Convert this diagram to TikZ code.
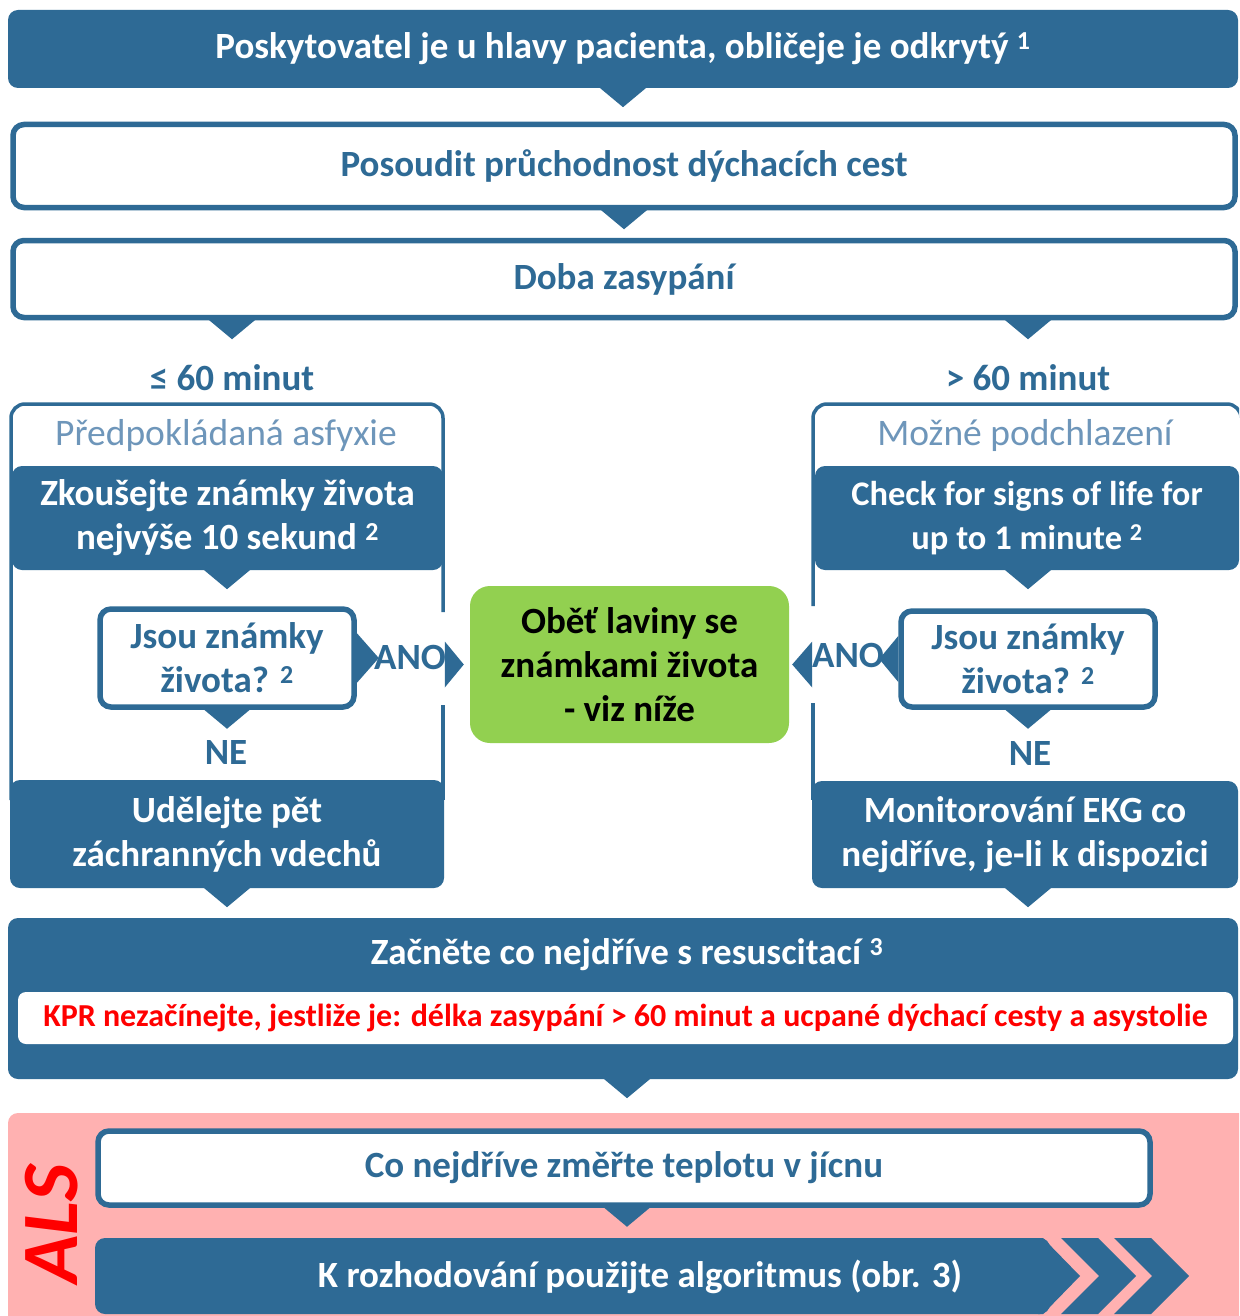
\documentclass[tikz,border=0pt]{standalone}
\usepackage{fontspec}
\setmainfont{Carlito}
\usetikzlibrary{calc}
\definecolor{mblue}{RGB}{46,106,149}
\definecolor{lblue}{RGB}{110,150,186}
\definecolor{mgreen}{RGB}{146,208,80}
\definecolor{mpink}{RGB}{255,177,177}
\definecolor{mred}{RGB}{255,0,0}
\newcommand{\pdown}[1]{\fill[mblue] ($#1+(-24,-1)$) -- ($#1+(24,-1)$) -- ($#1+(0,19)$) -- cycle;}
\newcommand{\bigf}{\bfseries\fontsize{37pt}{44pt}\selectfont}
\begin{document}
\begin{tikzpicture}[x=1pt,y=-1pt,
  dk/.style={fill=mblue, rounded corners=10pt, text=white, font=\bigf, align=center, inner sep=0pt},
  wb/.style={draw=mblue, line width=5.5pt, fill=white, rounded corners=11pt, text=mblue, font=\bigf, align=center, inner sep=0pt},
  lbl/.style={text=mblue, font=\bigf, inner sep=0pt},
  sub/.style={text=lblue, font=\fontsize{37.5pt}{40pt}\selectfont, inner sep=0pt},
  frame/.style={draw=mblue, line width=3.5pt}]
\useasboundingbox (0,0) rectangle (1239,1316);
\clip (0,0) rectangle (1239,1316);
\fill[white] (0,0) rectangle (1239,1316);

% top boxes
\node[dk, minimum width=1230pt, minimum height=78pt] (top) at (623,49) {Poskytovatel je u hlavy pacienta, obličeje je odkrytý \textsuperscript{1}};
\node[wb, minimum width=1222pt, minimum height=83pt] (posoudit) at (624,166) {Posoudit průchodnost dýchacích cest};
\node[wb, minimum width=1222pt, minimum height=77pt] (doba) at (624,279) {Doba zasypání};
\pdown{(top.south)}
\pdown{(posoudit.south)}

% branch labels
\node[lbl] (le60) at (232,378) {≤ 60 minut};
\node[lbl] (gt60) at (1028,378) {> 60 minut};
\pdown{(doba.south -| le60)}
\pdown{(doba.south -| gt60)}

% frames
\draw[frame, rounded corners=14pt] (11,800) -- (11,404) -- (443,404) -- (443,612);
\draw[frame] (443,705) -- (443,800);
\draw[frame, rounded corners=14pt] (813,606) -- (813,404) -- (1241,404) -- (1241,800);
\draw[frame] (813,703) -- (813,800);

\node[sub] (asfyx) at (226,435) {Předpokládaná asfyxie};
\node[sub] (podchl) at (1025,435) {Možné podchlazení};

% left column
\node[dk, minimum width=431pt, minimum height=104pt] (zk) at (227.5,518) {Zkoušejte známky života\\nejvýše 10 sekund \textsuperscript{2}};
\node[wb, minimum width=254pt, minimum height=98pt] (jsouL) at (227,658) {Jsou známky\\života? \textsuperscript{2}};
\node[lbl] (neL) at (226,752) {NE};
\node[dk, minimum width=434pt, minimum height=108pt] (udel) at (227,834) {Udělejte pět\\záchranných vdechů};
\pdown{(zk.south -| jsouL)}
\pdown{(jsouL.south)}
\pdown{(udel.south)}

% right column
\node[dk, minimum width=424pt, minimum height=104pt, font=\bfseries\fontsize{34.5pt}{44pt}\selectfont] (check) at (1027,518) {Check for signs of life for\\up to 1 minute \textsuperscript{2}};
\node[wb, minimum width=254pt, minimum height=96pt] (jsouR) at (1028,659) {Jsou známky\\života? \textsuperscript{2}};
\node[lbl] (neR) at (1030,753) {NE};
\node[dk, minimum width=426pt, minimum height=107pt] (monit) at (1025,834.5) {Monitorování EKG co\\nejdříve, je-li k dispozici};
\pdown{(check.south -| jsouR)}
\pdown{(jsouR.south)}
\pdown{(monit.south -| jsouR)}

% green centre
\node[fill=mgreen, rounded corners=20pt, minimum width=319pt, minimum height=157pt, inner sep=0pt, align=center, font=\bigf, text=black] (green) at (629.5,664.5) {Oběť laviny se\\známkami života\\- viz níže};

% ANO arrows
\fill[mblue] ($(jsouL.east)+(0,-25)$) -- ($(jsouL.east)+(22,0)$) -- ($(jsouL.east)+(0,25)$) -- cycle;
\node[lbl] (anoL) at (410,657) {ANO};
\fill[mblue] ($(green.west)+(-25,-23)$) -- ($(green.west)+(-6,0)$) -- ($(green.west)+(-25,23)$) -- cycle;
\fill[mblue] ($(jsouR.west)+(0,-23)$) -- ($(jsouR.west)+(-19,0)$) -- ($(jsouR.west)+(0,23)$) -- cycle;
\node[lbl] (anoR) at (848,655) {ANO};
\fill[mblue] ($(green.east)+(23,-23)$) -- ($(green.east)+(3,0)$) -- ($(green.east)+(23,23)$) -- cycle;

% start resuscitation
\node[dk, minimum width=1230pt, minimum height=161pt] (start) at (623,998.5) {};
\node[text=white, font=\bigf, inner sep=0pt] (starttxt) at (627,955) {Začněte co nejdříve s resuscitací \textsuperscript{3}};
\node[fill=white, rounded corners=8pt, minimum width=1215pt, minimum height=52pt, inner sep=0pt, text=mred, font=\bfseries\fontsize{32pt}{36pt}\selectfont] (kpr) at (625.5,1018) {KPR nezačínejte, jestliže je: délka zasypání > 60 minut a ucpané dýchací cesty a asystolie};
\pdown{(start.south -| starttxt)}

% ALS section
\fill[mpink, rounded corners=10pt] (8,1113) rectangle (1260,1340);
\node[text=mred, font=\bfseries\itshape\fontsize{80pt}{80pt}\selectfont, rotate=90, inner sep=0pt] (als) at (52,1224) {ALS};
\node[wb, minimum width=1052pt, minimum height=74pt] (teplota) at (624,1168) {Co nejdříve změřte teplotu v jícnu};
\fill[mblue, rounded corners=10pt] (95,1238) rectangle (1050,1314);
\fill[mblue] (1038,1238) -- (1043,1238) -- (1080,1276) -- (1043,1314) -- (1038,1314) -- cycle;
\fill[mblue] (1061,1238) -- (1098,1238) -- (1136,1276) -- (1098,1314) -- (1061,1314) -- (1099,1276) -- cycle;
\fill[mblue] (1114,1238) -- (1151,1238) -- (1189,1276) -- (1151,1314) -- (1114,1314) -- (1152,1276) -- cycle;
\node[text=white, font=\bigf, inner sep=0pt] (algo) at (640,1277) {K rozhodování použijte algoritmus (obr. 3)};
\pdown{(teplota.south -| starttxt)}
\end{tikzpicture}
\end{document}
